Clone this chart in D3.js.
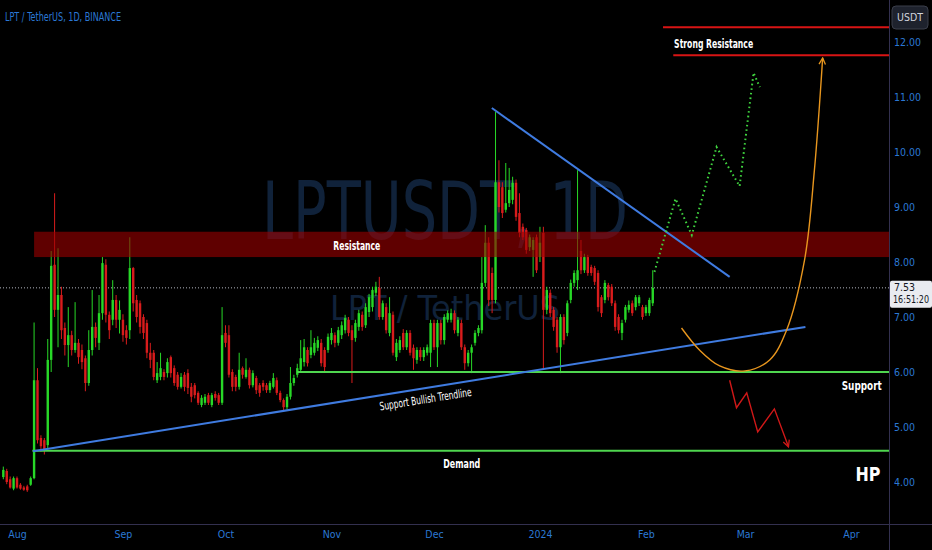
<!DOCTYPE html>
<html>
<head>
<meta charset="utf-8">
<script src="https://cdn.jsdelivr.net/npm/d3@7"></script>
<style>
  body { margin: 0; background: #000; }
  svg { display: block; }
</style>
</head>
<body>
<script>
// LPT / TetherUS 1D (BINANCE), daily candles

var firstDay = "2023-07-28";

var opens = [
  4.09,4.2,4.05,3.88,4.07,3.95,3.9,3.92,3.95,4.07,
  5.85,4.8,4.76,4.67,6.22,7.95,7.13,7.4,6.8,6.49,
  6.67,6.4,6.53,6.4,6.25,5.8,6.4,6.82,6.53,7.07,
  7.95,7.04,6.95,7.31,6.95,6.95,6.76,6.76,7.89,7.31,
  7.25,7.0,6.89,6.35,6.35,5.85,5.91,6.0,5.98,6.27,
  6.07,5.95,5.73,5.95,5.98,5.73,5.76,5.62,5.4,5.44,
  5.58,5.4,5.6,5.58,5.44,6.71,6.67,6.0,5.91,5.73,
  6.07,5.91,6.04,5.76,5.89,5.76,5.8,5.76,5.67,5.73,
  5.85,5.62,5.49,5.36,5.55,5.8,5.95,6.04,6.18,6.4,
  6.31,6.35,6.44,6.53,6.4,6.4,6.58,6.67,6.53,6.67,
  6.76,6.95,6.76,6.62,6.82,7.04,6.85,7.09,7.18,7.44,
  7.53,7.0,7.18,6.71,7.04,6.27,6.4,6.71,6.45,6.71,
  6.44,6.22,6.4,6.27,6.35,6.35,6.89,6.45,6.89,6.58,
  6.95,6.95,7.07,6.71,6.89,6.45,6.16,6.35,6.53,6.71,
  6.76,7.62,8.35,7.8,7.31,9.45,9.36,8.95,9.07,9.13,
  9.44,8.89,8.64,8.58,8.27,8.22,8.45,8.09,8.53,7.13,
  7.44,7.13,6.95,6.45,7.0,6.71,7.31,7.62,7.67,8.2,
  7.85,8.09,7.91,7.89,7.8,7.36,7.31,7.58,7.55,7.25,
  7.0,6.71,6.95,7.13,7.25,7.18,7.25,7.18,7.07,7.07,7.25
];
var highs = [
  4.28,4.24,4.1,4.1,4.1,3.98,3.93,3.95,4.1,6.9,
  6.07,4.85,4.8,6.6,8.2,9.25,8.25,7.55,6.9,7.18,
  6.75,7.27,6.6,6.5,6.3,6.76,7.49,6.9,7.4,8.09,
  8.05,7.1,7.67,7.4,7.3,7.05,6.85,8.45,7.91,7.4,
  7.3,7.05,6.95,6.53,6.4,6.18,6.35,6.05,6.25,6.3,
  6.12,6.0,5.98,6.0,6.05,5.8,5.8,5.65,5.58,5.6,
  5.62,5.62,5.65,5.62,7.18,6.85,6.85,6.05,5.95,6.35,
  6.1,6.25,6.08,6.03,5.93,5.8,5.85,5.8,5.84,5.98,
  5.9,5.66,5.52,5.6,6.09,5.95,6.15,6.58,6.6,6.45,
  6.76,6.62,6.65,6.6,6.45,6.7,6.8,6.72,6.82,6.92,
  7.04,7.0,6.85,6.95,7.13,7.1,7.25,7.42,7.55,7.64,
  7.73,7.3,7.25,7.36,7.1,6.6,6.65,6.78,6.76,6.76,
  6.5,6.45,6.45,6.45,6.5,6.95,6.95,6.95,6.95,7.05,
  7.12,7.15,7.12,7.0,6.95,6.5,6.4,6.5,6.76,6.85,
  8.09,8.67,8.45,7.9,10.73,9.85,9.45,9.8,9.71,9.55,
  9.5,9.25,8.7,8.62,8.5,8.45,8.5,8.64,8.64,7.55,
  7.5,7.18,7.0,7.05,7.05,7.3,7.68,7.85,9.67,8.4,
  8.15,8.13,7.95,7.93,7.85,7.4,7.67,7.62,7.6,7.3,
  7.05,6.95,7.22,7.3,7.3,7.4,7.4,7.22,7.22,7.35,7.85
];
var lows = [
  4.05,3.96,3.88,3.85,3.88,3.86,3.84,3.82,3.93,4.05,
  4.7,4.55,4.5,4.6,6.0,7.0,6.45,6.6,6.3,6.09,
  6.3,6.35,6.15,6.05,5.65,5.75,6.3,6.45,6.4,6.95,
  6.9,6.6,6.85,6.8,6.7,6.55,6.5,6.6,7.1,6.9,
  6.7,6.6,6.25,6.07,5.85,5.8,5.85,5.85,5.9,5.9,
  5.75,5.68,5.7,5.65,5.6,5.45,5.52,5.4,5.36,5.4,
  5.4,5.36,5.48,5.4,5.4,6.45,5.9,5.65,5.65,5.68,
  5.88,5.88,5.7,5.72,5.6,5.55,5.66,5.62,5.62,5.7,
  5.58,5.45,5.3,5.32,5.5,5.75,5.9,6.0,6.1,6.1,
  6.25,6.3,6.38,6.1,6.0,6.35,6.5,6.45,6.48,6.6,
  6.7,6.65,5.8,6.55,6.75,6.75,6.8,7.0,7.1,7.38,
  6.95,6.95,6.7,6.65,6.3,6.2,6.35,6.4,6.4,6.3,
  6.04,6.15,6.2,6.2,6.3,6.09,6.4,6.09,6.5,6.5,
  6.9,6.9,6.7,6.65,6.4,6.04,6.1,5.98,6.48,6.65,
  6.7,7.55,7.2,7.07,7.25,8.9,8.8,8.9,9.0,9.05,
  8.75,8.45,8.4,8.15,8.2,7.73,7.8,8.0,6.04,7.05,
  7.0,6.75,6.35,5.98,6.5,6.65,7.25,7.55,7.49,7.78,
  7.8,7.75,7.75,7.58,7.1,7.0,7.25,7.3,7.2,6.75,
  6.7,6.58,6.9,7.08,7.02,7.12,7.2,6.95,7.02,7.02,7.2
];
var closes = [
  4.22,4.0,3.9,4.07,3.9,3.88,3.86,3.85,4.07,5.85,
  4.76,4.65,4.58,6.22,7.93,7.13,7.4,6.76,6.49,6.67,
  6.4,6.53,6.27,6.18,5.8,6.4,6.82,6.62,7.07,7.98,
  7.04,6.76,7.31,6.95,7.13,6.67,6.62,7.89,7.25,7.0,
  6.82,6.71,6.35,6.22,5.91,5.98,6.07,5.91,6.18,5.98,
  5.8,5.73,5.91,5.73,5.71,5.55,5.58,5.44,5.53,5.55,
  5.44,5.58,5.53,5.44,6.67,6.53,5.95,5.73,5.73,6.04,
  5.95,6.04,5.76,5.98,5.67,5.62,5.73,5.67,5.8,5.89,
  5.62,5.49,5.36,5.55,5.8,5.89,6.07,6.25,6.45,6.16,
  6.45,6.53,6.58,6.16,6.09,6.64,6.71,6.53,6.76,6.85,
  6.98,6.71,6.58,6.89,7.07,6.82,7.18,7.36,7.49,7.55,
  7.0,7.25,6.76,7.07,6.35,6.53,6.58,6.45,6.71,6.35,
  6.25,6.4,6.27,6.4,6.45,6.89,6.45,6.89,6.58,7.0,
  7.07,7.07,6.76,6.95,6.45,6.16,6.35,6.45,6.71,6.8,
  7.62,8.35,7.31,7.31,9.45,9.0,8.89,9.07,9.31,9.44,
  8.82,8.53,8.45,8.22,8.45,8.4,7.85,8.35,7.13,7.49,
  7.07,6.82,6.45,7.0,6.58,7.25,7.62,7.8,7.85,7.85,
  8.09,7.8,7.8,7.64,7.18,7.07,7.62,7.36,7.25,6.82,
  6.76,6.89,7.18,7.22,7.07,7.36,7.36,7.0,7.18,7.31,7.53
];

// axis ticks
var priceTicks = [4, 5, 6, 7, 8, 9, 10, 11, 12];
var monthTicks = ["2023-08-01","2023-09-01","2023-10-01","2023-11-01","2023-12-01","2024-01-01","2024-02-01","2024-03-01","2024-04-01"];
var monthLabels = ["Aug","Sep","Oct","Nov","Dec","2024","Feb","Mar","Apr"];

// drawn levels and annotations  [date, price]
var lastPrice = 7.53;
var resistanceZone = [8.09, 8.55];
var resistanceFrom = "2023-08-06";
var supportLevel = 6.0, supportFrom = "2023-10-22";
var demandLevel = 4.57, demandFrom = "2023-08-05T12:00";
var strongTop = 12.27, strongTopFrom = "2024-02-06T00:00";
var strongLow = 11.76, strongLowFrom = "2024-02-09T00:00";
var trendUp = [["2023-08-05T16:00", 4.56], ["2024-03-18T16:00", 6.82]];
var trendDown = [["2023-12-17T22:00", 10.8], ["2024-02-25T12:00", 7.73]];
var greenPath = [["2024-02-03T12:00", 7.82], ["2024-02-09T16:00", 9.15], ["2024-02-14T10:00", 8.49], ["2024-02-21T16:00", 10.09], ["2024-02-28T10:00", 9.38], ["2024-03-03T12:00", 11.44], ["2024-03-05T08:00", 11.18]];
var orangePath = [["2024-02-11T10:00", 6.8], ["2024-02-16T16:00", 6.4], ["2024-02-22T14:00", 6.11], ["2024-03-01T00:00", 6.02], ["2024-03-08T05:00", 6.22], ["2024-03-13T02:00", 6.75], ["2024-03-18T10:00", 8.04], ["2024-03-21T07:00", 9.67], ["2024-03-23T17:00", 11.71]];
var redPath = [["2024-02-25T12:00", 5.85], ["2024-02-27T12:00", 5.35], ["2024-03-01T12:00", 5.62], ["2024-03-04T17:00", 4.91], ["2024-03-09T14:00", 5.33], ["2024-03-13T17:00", 4.64]];

var width = 932;
var height = 550;
var plotRight = 889;
var plotBottom = 524;

var axisBlue = "#2b78d4";
var upColor = "#27d827";
var downColor = "#d91c1c";
var labelFont = "'DejaVu Sans Condensed', 'Liberation Sans', sans-serif";

function t(s) {
  return s.length > 10 ? d3.utcParse("%Y-%m-%dT%H:%M")(s) : d3.utcParse("%Y-%m-%d")(s);
}

var x = d3.scaleUtc()
    .domain([t("2023-08-01"), t("2024-04-01")])
    .range([17, 851]);

var y = d3.scaleLinear()
    .domain([4, 12])
    .range([482, 42]);

var dates = opens.map(function(d, i) { return d3.utcDay.offset(t(firstDay), i); });

var svg = d3.select("body").append("svg")
    .attr("width", width)
    .attr("height", height);

svg.append("rect")
    .attr("width", width)
    .attr("height", height)
    .attr("fill", "#000000");

var defs = svg.append("defs");
defs.append("clipPath").attr("id", "plot")
  .append("rect").attr("width", plotRight).attr("height", plotBottom);

function arrowMarker(id, color) {
  defs.append("marker")
      .attr("id", id)
      .attr("viewBox", "0 0 10 10")
      .attr("refX", 9)
      .attr("refY", 5)
      .attr("markerUnits", "userSpaceOnUse")
      .attr("markerWidth", 8)
      .attr("markerHeight", 8)
      .attr("orient", "auto")
    .append("path")
      .attr("d", "M1,1 L9,5 L1,9")
      .attr("fill", "none")
      .attr("stroke", color)
      .attr("stroke-width", 1.6);
}
arrowMarker("arrowRed", "#d01818");
arrowMarker("arrowOrange", "#e8961e");

var plot = svg.append("g").attr("clip-path", "url(#plot)");

// watermark (squeezed to the width of the narrow chart font)
plot.append("text")
    .attr("x", 445)
    .attr("y", 239)
    .attr("text-anchor", "middle")
    .attr("font-family", labelFont)
    .attr("font-size", 80)
    .attr("fill", "#10223a")
    .attr("textLength", 366)
    .attr("lengthAdjust", "spacingAndGlyphs")
    .text("LPTUSDT, 1D");

plot.append("text")
    .attr("x", 445)
    .attr("y", 320)
    .attr("text-anchor", "middle")
    .attr("font-family", labelFont)
    .attr("font-size", 33)
    .attr("fill", "#10223a")
    .attr("textLength", 230)
    .attr("lengthAdjust", "spacingAndGlyphs")
    .text("LPT / TetherUS");

// current price line
plot.append("line")
    .attr("x1", 0).attr("x2", plotRight)
    .attr("y1", y(lastPrice)).attr("y2", y(lastPrice))
    .attr("stroke", "#b2b5be")
    .attr("stroke-width", 1)
    .attr("stroke-dasharray", "1,2");

// candles
var candles = plot.append("g").selectAll("g")
    .data(opens)
    .join("g");

candles.append("line")
    .attr("x1", function(d, i) { return x(dates[i]); })
    .attr("x2", function(d, i) { return x(dates[i]); })
    .attr("y1", function(d, i) { return y(highs[i]); })
    .attr("y2", function(d, i) { return y(lows[i]); })
    .attr("stroke", function(d, i) { return closes[i] >= opens[i] ? upColor : downColor; })
    .attr("stroke-width", 1);

candles.append("rect")
    .attr("x", function(d, i) { return x(dates[i]) - 1.2; })
    .attr("width", 2.4)
    .attr("y", function(d, i) { return y(Math.max(opens[i], closes[i])); })
    .attr("height", function(d, i) { return Math.max(1, Math.abs(y(opens[i]) - y(closes[i]))); })
    .attr("fill", function(d, i) { return closes[i] >= opens[i] ? upColor : downColor; });

// resistance zone
plot.append("rect")
    .attr("x", x(t(resistanceFrom)))
    .attr("width", plotRight - x(t(resistanceFrom)))
    .attr("y", y(resistanceZone[1]))
    .attr("height", y(resistanceZone[0]) - y(resistanceZone[1]))
    .attr("fill", "#9a0000")
    .attr("opacity", 0.62);

// horizontal levels
function level(price, from, color) {
  plot.append("line")
      .attr("x1", x(t(from))).attr("x2", plotRight)
      .attr("y1", y(price)).attr("y2", y(price))
      .attr("stroke", color)
      .attr("stroke-width", 2);
}
level(supportLevel, supportFrom, "#4fd64f");
level(demandLevel, demandFrom, "#4fd64f");
level(strongTop, strongTopFrom, "#d81414");
level(strongLow, strongLowFrom, "#d81414");

// trendlines
var line = d3.line()
    .x(function(d) { return x(t(d[0])); })
    .y(function(d) { return y(d[1]); });

plot.append("path")
    .attr("d", line(trendUp))
    .attr("fill", "none")
    .attr("stroke", "#3f7be0")
    .attr("stroke-width", 2);

plot.append("path")
    .attr("d", line(trendDown))
    .attr("fill", "none")
    .attr("stroke", "#3f7be0")
    .attr("stroke-width", 2);

// projected paths
plot.append("path")
    .attr("d", line(greenPath))
    .attr("fill", "none")
    .attr("stroke", "#3fd43f")
    .attr("stroke-width", 2)
    .attr("stroke-dasharray", "1.6,3");

plot.append("path")
    .attr("d", line.curve(d3.curveCatmullRom)(orangePath))
    .attr("fill", "none")
    .attr("stroke", "#e8961e")
    .attr("stroke-width", 1.4)
    .attr("marker-end", "url(#arrowOrange)");
line.curve(d3.curveLinear);

plot.append("path")
    .attr("d", line(redPath))
    .attr("fill", "none")
    .attr("stroke", "#d01818")
    .attr("stroke-width", 1.4)
    .attr("marker-end", "url(#arrowRed)");

// labels
function label(txt, xx, yy, anchor, size, len) {
  return plot.append("text")
      .attr("x", xx)
      .attr("y", yy)
      .attr("dy", "0.35em")
      .attr("text-anchor", anchor)
      .attr("font-family", labelFont)
      .attr("font-weight", "bold")
      .attr("font-size", size)
      .attr("fill", "#ffffff")
      .attr("textLength", len)
      .attr("lengthAdjust", "spacingAndGlyphs")
      .text(txt);
}
label("Resistance", x(t("2023-11-08T10:00")), y((resistanceZone[0] + resistanceZone[1]) / 2) + 1, "middle", 13, 47);
label("Strong Resistance", x(t("2024-02-09T06:00")), y(11.98), "start", 13, 79);
label("Support", x(t("2024-04-10")), y(5.75), "end", 13, 40);
label("Demand", x(t("2023-12-09T03:00")), y(4.33), "middle", 13, 37);
label("HP", 868, 474, "middle", 20, 25);

var ax1 = x(t(trendUp[0][0])), ay1 = y(trendUp[0][1]);
var ax2 = x(t(trendUp[1][0])), ay2 = y(trendUp[1][1]);
var angle = Math.atan2(ay2 - ay1, ax2 - ax1) * 180 / Math.PI;
var lx = x(t("2023-11-28"));
var ly = ay1 + (lx - ax1) * (ay2 - ay1) / (ax2 - ax1);
plot.append("text")
    .attr("transform", "translate(" + lx + "," + ly + ") rotate(" + angle + ")")
    .attr("dy", 15)
    .attr("text-anchor", "middle")
    .attr("font-family", labelFont)
    .attr("font-size", 11.5)
    .attr("fill", "#ffffff")
    .attr("textLength", 93)
    .attr("lengthAdjust", "spacingAndGlyphs")
    .text("Support Bullish Trendline");

// header
svg.append("text")
    .attr("x", 5)
    .attr("y", 21)
    .attr("font-family", labelFont)
    .attr("font-size", 12.5)
    .attr("fill", axisBlue)
    .attr("textLength", 116)
    .attr("lengthAdjust", "spacingAndGlyphs")
    .text("LPT / TetherUS, 1D, BINANCE");

// axes
var yAxis = svg.append("g")
    .attr("transform", "translate(" + plotRight + ",0)")
    .call(d3.axisRight(y).tickValues(priceTicks).tickFormat(d3.format(".2f")).tickSize(0).tickPadding(5));

var xAxis = svg.append("g")
    .attr("transform", "translate(0," + plotBottom + ")")
    .call(d3.axisBottom(x).tickValues(monthTicks.map(t)).tickFormat(function(d, i) { return monthLabels[i]; }).tickSize(0).tickPadding(7));

[yAxis, xAxis].forEach(function(g) {
  g.select(".domain").remove();
  g.selectAll("text")
      .attr("fill", axisBlue)
      .attr("font-family", labelFont)
      .attr("font-size", 10.5);
});

svg.append("line")
    .attr("x1", plotRight + 0.5).attr("x2", plotRight + 0.5)
    .attr("y1", 0).attr("y2", height)
    .attr("stroke", "#33304f");

svg.append("line")
    .attr("x1", 0).attr("x2", width)
    .attr("y1", plotBottom + 0.5).attr("y2", plotBottom + 0.5)
    .attr("stroke", "#33304f");

// last price tag
var tag = svg.append("g").attr("transform", "translate(" + (plotRight + 1) + "," + (y(lastPrice) - 7) + ")");
tag.append("rect")
    .attr("width", 42)
    .attr("height", 27)
    .attr("rx", 2)
    .attr("fill", "#e9ebf0");
tag.append("text")
    .attr("x", 4).attr("y", 10)
    .attr("font-family", labelFont)
    .attr("font-size", 10.5)
    .attr("fill", "#131722")
    .text(d3.format(".2f")(lastPrice));
tag.append("text")
    .attr("x", 3).attr("y", 22)
    .attr("font-family", labelFont)
    .attr("font-size", 10)
    .attr("fill", "#131722")
    .attr("textLength", 36)
    .attr("lengthAdjust", "spacingAndGlyphs")
    .text("16:51:20");

// currency box
svg.append("rect")
    .attr("x", 892).attr("y", 6)
    .attr("width", 36).attr("height", 23)
    .attr("rx", 4)
    .attr("fill", "#1e222d")
    .attr("stroke", "#3a3e4a");
svg.append("text")
    .attr("x", 910).attr("y", 21)
    .attr("text-anchor", "middle")
    .attr("font-family", labelFont)
    .attr("font-size", 10.5)
    .attr("fill", "#d1d4dc")
    .text("USDT");
</script>
</body>
</html>
